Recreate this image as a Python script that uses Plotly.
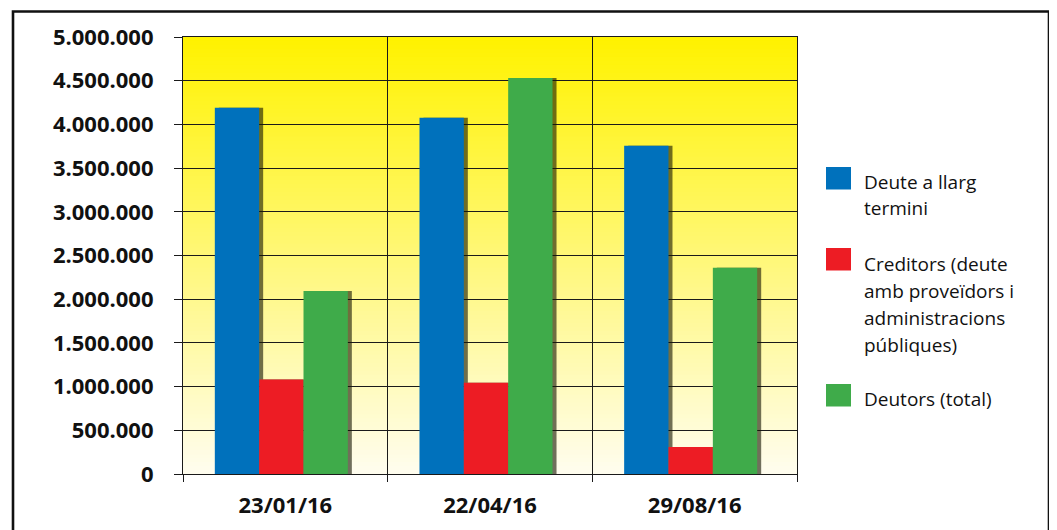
import plotly.graph_objects as go

# ---- data ----
categories = ["23/01/16", "22/04/16", "29/08/16"]
series_names = ["Deute a llarg termini",
                "Creditors (deute amb proveïdors i administracions públiques)",
                "Deutors (total)"]
legend_lines = [["Deute a llarg", "termini"],
                ["Creditors (deute", "amb proveïdors i", "administracions", "públiques)"],
                ["Deutors (total)"]]
deute_llarg = [4190000, 4075000, 3755000]
creditors = [1080000, 1045000, 310000]
deutors = [2095000, 4530000, 2360000]
values = [deute_llarg, creditors, deutors]
colors = ["#0071BC", "#ED1C24", "#3FAB4A"]
y_tickvals = list(range(0, 5000001, 500000))
y_ticktext = ["0", "500.000", "1.000.000", "1.500.000", "2.000.000", "2.500.000",
              "3.000.000", "3.500.000", "4.000.000", "4.500.000", "5.000.000"]

# ---- layout geometry (page pixels; page body has an 8px margin) ----
OFF = 8
W, H = 1057 - OFF, 530 - OFF
L, R, T, B = 183 - OFF, 797 - OFF, 37 - OFF, 474 - OFF
ml, mr, mt, mb = L, W - R, T, H - B
pw, ph = R - L, B - T
unit_px = pw / 3.0

def px_x(p):
    return (p - OFF - L) / pw

def px_y(p):
    return (B - (p - OFF)) / ph

fig = go.Figure()

# shadows (main axes, drawn below bars)
for vals in values:
    fig.add_trace(go.Bar(x=categories, y=vals,
                         marker=dict(color="rgba(25,25,5,0.62)", line=dict(width=0)),
                         xaxis="x", yaxis="y", showlegend=False, hoverinfo="skip"))
# bars (overlay x axis shifted slightly left)
for name, vals, c in zip(series_names, values, colors):
    fig.add_trace(go.Bar(x=categories, y=vals, name=name,
                         marker=dict(color=c, line=dict(width=0)),
                         xaxis="x2", yaxis="y", showlegend=False))

shift = 4.0 / unit_px
font_bold = "Open Sans"
gcol = "#1a1a1a"

fig.update_layout(
    width=W, height=H,
    margin=dict(l=ml, r=mr, t=mt, b=mb, pad=0, autoexpand=False),
    paper_bgcolor="white",
    plot_bgcolor="rgba(0,0,0,0)",
    barmode="group", bargap=0.35, bargroupgap=0,
    xaxis=dict(type="category", categoryorder="array", categoryarray=categories,
               range=[-0.5, 2.5], tickson="boundaries", showgrid=True,
               gridcolor=gcol, gridwidth=1.2, ticks="outside", ticklen=7,
               tickcolor=gcol, tickwidth=1.2, showline=True, linecolor=gcol,
               linewidth=1.2, mirror=True, automargin=False,
               tickfont=dict(family=font_bold, size=22, color="#111", weight="bold"),
               ticklabelstandoff=11, fixedrange=True),
    xaxis2=dict(type="category", categoryorder="array", categoryarray=categories,
                range=[-0.5 + shift, 2.5 + shift], overlaying="x", visible=False,
                showgrid=False, fixedrange=True, automargin=False),
    yaxis=dict(range=[0, 5000000], tickvals=y_tickvals, ticktext=y_ticktext,
               showgrid=True, gridcolor=gcol, gridwidth=1.2, ticks="outside",
               ticklen=8, tickcolor=gcol, tickwidth=1.2, showline=True,
               linecolor=gcol, linewidth=1.2, mirror=True, zeroline=False,
               automargin=False,
               tickfont=dict(family=font_bold, size=22, color="#111", weight="bold"),
               ticklabelstandoff=16, fixedrange=True),
)

# gradient background strips
shapes = []
N = 110
top = (255, 242, 0)
bot = (255, 253, 238)
for i in range(N):
    f = i / (N - 1)
    col = tuple(round(bot[k] + (top[k] - bot[k]) * f) for k in range(3))
    shapes.append(dict(type="rect", xref="paper", yref="paper", layer="below",
                       x0=0, x1=1, y0=i / N, y1=(i + 1.6) / N if i < N - 1 else 1,
                       fillcolor="rgb(%d,%d,%d)" % col, line=dict(width=0)))

# outer frame
shapes.append(dict(type="rect", xref="paper", yref="paper", layer="above",
                   x0=px_x(13), x1=px_x(1049), y0=px_y(545), y1=px_y(11.5),
                   line=dict(color="#111", width=2.6), fillcolor="rgba(0,0,0,0)"))

# legend swatches + text
sw_tops = [167, 248, 384]
baselines = [[189, 215], [271, 298, 325, 352], [406]]
annotations = []
for c, st, lines, bls in zip(colors, sw_tops, legend_lines, baselines):
    shapes.append(dict(type="rect", xref="paper", yref="paper", layer="above",
                       x0=px_x(826), x1=px_x(851), y0=px_y(st + 22.5), y1=px_y(st),
                       fillcolor=c, line=dict(width=0)))
    for txt, bl in zip(lines, bls):
        annotations.append(dict(xref="paper", yref="paper", x=px_x(862), y=px_y(bl - 7.4),
                                xanchor="left", yanchor="middle", text=txt, showarrow=False,
                                font=dict(family="Open Sans", size=19, color="#111")))

fig.update_layout(shapes=shapes, annotations=annotations)
fig.write_html("out.html")
